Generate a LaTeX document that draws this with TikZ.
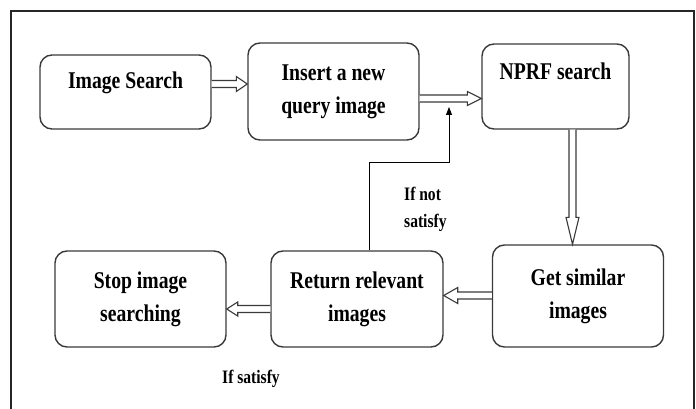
\documentclass[tikz,border=0pt]{standalone}
\usepackage{fontspec}
\setmainfont{Liberation Serif}[FakeStretch=0.82]
\usetikzlibrary{calc,arrows.meta}
\definecolor{edge}{HTML}{3A3A3A}
\tikzset{
  box/.style={draw=edge, line width=1.4pt, rounded corners=12pt, align=center,
    font=\fontsize{24}{33}\selectfont\bfseries, inner sep=0pt},
  dbl/.style={draw=edge, line width=1.1pt, line join=miter, fill=white},
  fb/.style={draw=black, line width=0.9pt, -{Triangle[length=8pt,width=6pt]}},
  lbl/.style={font=\fontsize{19}{27}\selectfont\bfseries, inner sep=0pt, align=left},
  frame/.style={draw=black!85, line width=1.6pt}
}
% double (outline) arrow from #1 to #2, head length #3, half head width #4
\newcommand{\dblarr}[4]{%
  \draw[dbl] ($(#1)!3.5pt!90:(#2)$) -- ($(#2)!#3!(#1)!3.5pt!-90:(#1)$)
    -- ($(#2)!#3!(#1)!#4!-90:(#1)$) -- (#2)
    -- ($(#2)!#3!(#1)!#4!90:(#1)$) -- ($(#2)!#3!(#1)!3.5pt!90:(#1)$)
    -- ($(#1)!3.5pt!-90:(#2)$);}
\begin{document}
\begin{tikzpicture}[x=1pt,y=-1pt]
\useasboundingbox (0,0) rectangle (696,409);
\draw[frame] (11,412) -- (11,11) -- (694,11) -- (694,412);

\node[box, minimum width=171pt, minimum height=74pt, text height=17pt, text depth=23pt] (img) at (125.5,92) {Image Search};
\node[box, minimum width=171pt, minimum height=97pt] (ins) at (333.5,91.5) {Insert a new\\query image};
\node[box, minimum width=147pt, minimum height=85pt, text height=17pt, text depth=30pt] (nprf) at (555.5,86.5) {NPRF search};
\node[box, minimum width=171pt, minimum height=102pt] (get) at (578,296) {Get similar\\images};
\node[box, minimum width=172pt, minimum height=96pt] (ret) at (357,299) {Return relevant\\images};
\node[box, minimum width=171pt, minimum height=96pt] (stop) at (140.5,299) {Stop image\\searching};

\coordinate (a1s) at ([yshift=8pt]img.east);
\coordinate (a1e) at ([yshift=7.5pt]ins.west);
\coordinate (a2s) at ([yshift=-7pt]ins.east);
\coordinate (a2e) at ([yshift=-12pt]nprf.west);
\coordinate (a3s) at ([xshift=17pt]nprf.south);
\coordinate (a3e) at ([xshift=-5.5pt]get.north);
\coordinate (a4s) at ([yshift=0.5pt]get.west);
\coordinate (a4e) at ([yshift=3.5pt]ret.east);
\coordinate (a5s) at ([yshift=-10pt]ret.west);
\coordinate (a5e) at ([yshift=-10pt]stop.east);

\dblarr{a1s}{a1e}{11pt}{7.5pt}
\dblarr{a2s}{a2e}{14pt}{7pt}
\dblarr{a3s}{a3e}{27pt}{6.5pt}
\dblarr{a4s}{a4e}{14pt}{8pt}
\dblarr{a5s}{a5e}{11pt}{7pt}

\coordinate (fbend) at (449,107);
\draw[fb] ([xshift=12pt]ret.north) -- ++(0,-88) -| (fbend);

\node[lbl, anchor=north west] (notsat) at (404,187) {If not\\satisfy};
\node[lbl, anchor=base west] (sat) at (222,383) {If satisfy};
\end{tikzpicture}
\end{document}
